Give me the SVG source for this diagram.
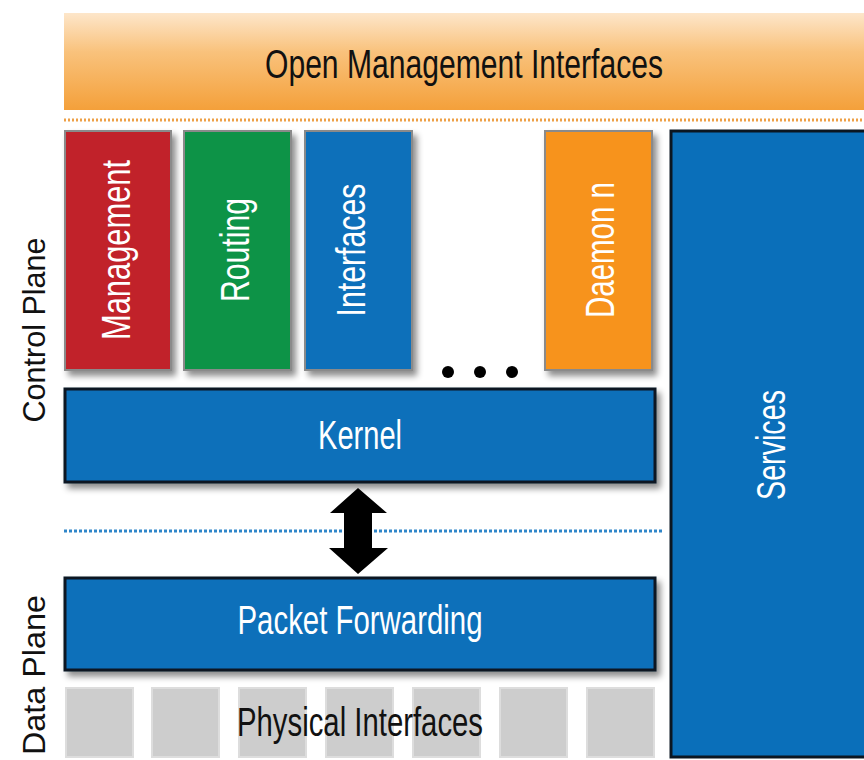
<svg xmlns="http://www.w3.org/2000/svg" width="864" height="760" viewBox="0 0 864 760">
  <defs>
    <linearGradient id="omiGrad" x1="0" y1="0" x2="0" y2="1">
      <stop offset="0" stop-color="#fde6ca"/>
      <stop offset="0.4" stop-color="#f9c27c"/>
      <stop offset="1" stop-color="#f4a03a"/>
    </linearGradient>
    <filter id="shadow" x="-10%" y="-10%" width="130%" height="130%">
      <feDropShadow dx="4" dy="5" stdDeviation="3" flood-color="#000" flood-opacity="0.45"/>
    </filter>
    <style>
      .lbl { font-family: "Liberation Sans", Arial, sans-serif; font-size: 40px; fill: #ffffff; text-anchor: middle; }
      .dark { fill: #111111; }
      .daemon { stroke: #8a8a8a; stroke-width: 2; filter: url(#shadow); }
      .bar { fill: #0a6fba; stroke: #0b1622; stroke-width: 3; filter: url(#shadow); }
      .port { fill: #cdcdcd; stroke: #dddddd; stroke-width: 2; }
      .side { font-family: "Liberation Sans", Arial, sans-serif; font-size: 32px; fill: #111111; text-anchor: middle; }
    </style>
  </defs>
  <rect width="864" height="760" fill="#ffffff"/>

  <g id="open-management-interfaces">
    <rect x="64" y="13" width="800" height="97" fill="url(#omiGrad)"/>
    <text class="lbl dark" x="464" y="78" font-size="48" textLength="398" lengthAdjust="spacingAndGlyphs">Open Management Interfaces</text>
  </g>

  <g id="separators">
    <line x1="64" y1="120" x2="864" y2="120" stroke="#eea046" stroke-width="3" stroke-dasharray="2 2"/>
    <line x1="64" y1="531" x2="662" y2="531" stroke="#2f86c9" stroke-width="3" stroke-dasharray="3 2"/>
  </g>

  <g id="services">
    <rect x="671" y="131" width="200" height="626" fill="#0a6fba" stroke="#0b1622" stroke-width="3"/>
    <text class="lbl" transform="translate(785,445) rotate(-90)" font-size="40" textLength="110" lengthAdjust="spacingAndGlyphs">Services</text>
  </g>

  <g id="management">
    <rect class="daemon" x="65" y="131" width="106" height="239" fill="#c1232b"/>
    <text class="lbl" transform="translate(130,250) rotate(-90)" textLength="180" lengthAdjust="spacingAndGlyphs">Management</text>
  </g>

  <g id="routing">
    <rect class="daemon" x="184" y="131" width="107" height="239" fill="#0c9346"/>
    <text class="lbl" transform="translate(249,250) rotate(-90)" textLength="104" lengthAdjust="spacingAndGlyphs">Routing</text>
  </g>

  <g id="interfaces">
    <rect class="daemon" x="305" y="131" width="107" height="239" fill="#0a6fba"/>
    <text class="lbl" transform="translate(365,250) rotate(-90)" textLength="133" lengthAdjust="spacingAndGlyphs">Interfaces</text>
  </g>

  <g id="ellipsis">
    <circle cx="448" cy="372" r="6" fill="#000"/>
    <circle cx="480" cy="372" r="6" fill="#000"/>
    <circle cx="512" cy="372" r="6" fill="#000"/>
  </g>

  <g id="daemon-n">
    <rect class="daemon" x="545" y="131" width="107" height="239" fill="#f7931e"/>
    <text class="lbl" transform="translate(614,250) rotate(-90)" textLength="136" lengthAdjust="spacingAndGlyphs">Daemon n</text>
  </g>

  <g id="kernel">
    <rect class="bar" x="65" y="389" width="590" height="93"/>
    <text class="lbl" x="360" y="449" font-size="42" textLength="84" lengthAdjust="spacingAndGlyphs">Kernel</text>
  </g>

  <g id="connectors">
    <path d="M358,488 L387,513 L372,513 L372,548 L388,548 L358,574 L329,548 L344,548 L344,513 L330,513 Z" fill="#000000"/>
  </g>

  <g id="packet-forwarding">
    <rect class="bar" x="65" y="578" width="590" height="92"/>
    <text class="lbl" x="360" y="634" font-size="40" textLength="245" lengthAdjust="spacingAndGlyphs">Packet Forwarding</text>
  </g>

  <g id="physical-interfaces">
    <rect class="port" x="66" y="688" width="67" height="69"/>
    <rect class="port" x="152" y="688" width="67" height="69"/>
    <rect class="port" x="239" y="688" width="67" height="69"/>
    <rect class="port" x="326" y="688" width="67" height="69"/>
    <rect class="port" x="413" y="688" width="67" height="69"/>
    <rect class="port" x="500" y="688" width="67" height="69"/>
    <rect class="port" x="587" y="688" width="67" height="69"/>
    <text class="lbl dark" x="360" y="736" font-size="42" textLength="246" lengthAdjust="spacingAndGlyphs">Physical Interfaces</text>
  </g>

  <g id="plane-labels">
    <text class="side" transform="translate(45,330) rotate(-90)" textLength="185" lengthAdjust="spacingAndGlyphs">Control Plane</text>
    <text class="side" transform="translate(45,675) rotate(-90)" textLength="160" lengthAdjust="spacingAndGlyphs">Data Plane</text>
  </g>
</svg>
